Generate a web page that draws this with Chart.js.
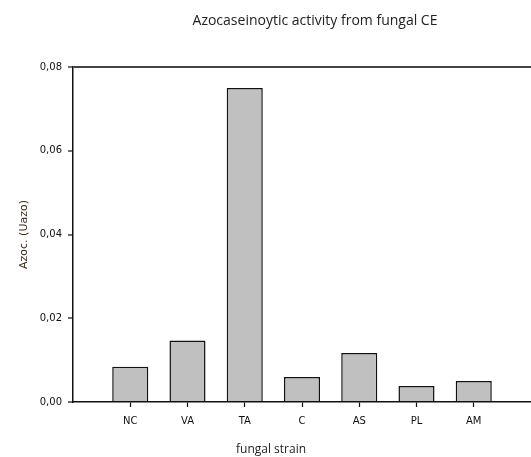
<!DOCTYPE html>
<html>
<head>
<meta charset="utf-8">
<script src="https://cdn.jsdelivr.net/npm/chart.js@4"></script>
<style>
  html, body { margin: 0; padding: 0; background: #fff; }
  #wrap { width: 531px; height: 457px; }
</style>
</head>
<body>
<div id="wrap"><canvas id="chart"></canvas></div>
<script>
const CATEGORIAS = ['NC', 'VA', 'TA', 'C', 'AS', 'PL', 'AM'];
const ATIVIDADE  = [0.0084, 0.0147, 0.0750, 0.0060, 0.0117, 0.0038, 0.0050];
const Y_TICKS    = [0, 0.02, 0.04, 0.06, 0.08];

const TITULO   = 'Azocaseinoytic activity from fungal CE';
const TITULO_X = 'fungal strain';
const TITULO_Y = 'Azoc. (Uazo)';

// empty slots before and after, so the bars sit one step in from the axis
const labels = ['', ...CATEGORIAS, ''];
const valores = [null, ...ATIVIDADE, null];

const fmtVirgula = v => v.toFixed(2).replace('.', ',');

const textos = {
  id: 'textos',
  afterDraw(chart) {
    const { ctx } = chart;
    ctx.save();
    ctx.fillStyle = '#222';
    ctx.textAlign = 'center';
    ctx.textBaseline = 'middle';
    ctx.font = "14px 'Open Sans', sans-serif";
    ctx.fillText(TITULO, 315, 21);
    ctx.font = "12px 'Open Sans', sans-serif";
    ctx.fillText(TITULO_X, 271, 450);
    ctx.restore();
  }
};

new Chart(document.getElementById('chart'), {
  type: 'bar',
  data: {
    labels,
    datasets: [{
      data: valores,
      backgroundColor: '#c0c0c0',
      borderColor: '#111',
      borderWidth: 1.5,
      barPercentage: 0.63,
      categoryPercentage: 1,
    }]
  },
  options: {
    responsive: true,
    maintainAspectRatio: false,
    animation: false,
    layout: { autoPadding: false, padding: { top: 67, left: 0, right: -4, bottom: 0 } },
    plugins: {
      legend: { display: false },
      tooltip: { enabled: false }
    },
    scales: {
      x: {
        offset: false,
        afterFit: s => { s.height = 55; s.paddingLeft = 0; s.paddingRight = 0; },
        border: { color: '#111', width: 1.5 },
        grid: {
          offset: false,
          drawOnChartArea: false,
          tickLength: 5,
          tickColor: ctx => (ctx.index === 0 || ctx.index === labels.length - 1) ? 'rgba(0,0,0,0)' : '#111',
          tickWidth: 1.2,
        },
        ticks: {
          autoSkip: false,
          maxRotation: 0,
          padding: 8,
          color: '#111',
          font: { family: "'DejaVu Sans', sans-serif", size: 10 }
        }
      },
      y: {
        min: 0,
        max: 0.08,
        afterFit: s => { s.width = 73; s.paddingTop = 0; s.paddingBottom = 0; },
        afterBuildTicks: s => { s.ticks = Y_TICKS.map(v => ({ value: v })); },
        border: { color: '#111', width: 1.5 },
        grid: {
          color: ctx => (ctx.tick && ctx.tick.value === 0.08) ? '#444' : 'rgba(0,0,0,0)',
          lineWidth: 2,
          tickColor: '#111',
          tickLength: 5,
          tickWidth: 1.2,
        },
        ticks: {
          padding: 6,
          color: '#111',
          callback: v => fmtVirgula(v),
          font: { family: "'DejaVu Sans', sans-serif", size: 10 }
        },
        title: {
          display: true,
          text: TITULO_Y,
          color: '#3a2a1a',
          padding: { top: 18, bottom: 0 },
          font: { family: "'DejaVu Sans', sans-serif", size: 11 }
        }
      }
    }
  },
  plugins: [textos]
});
</script>
</body>
</html>
